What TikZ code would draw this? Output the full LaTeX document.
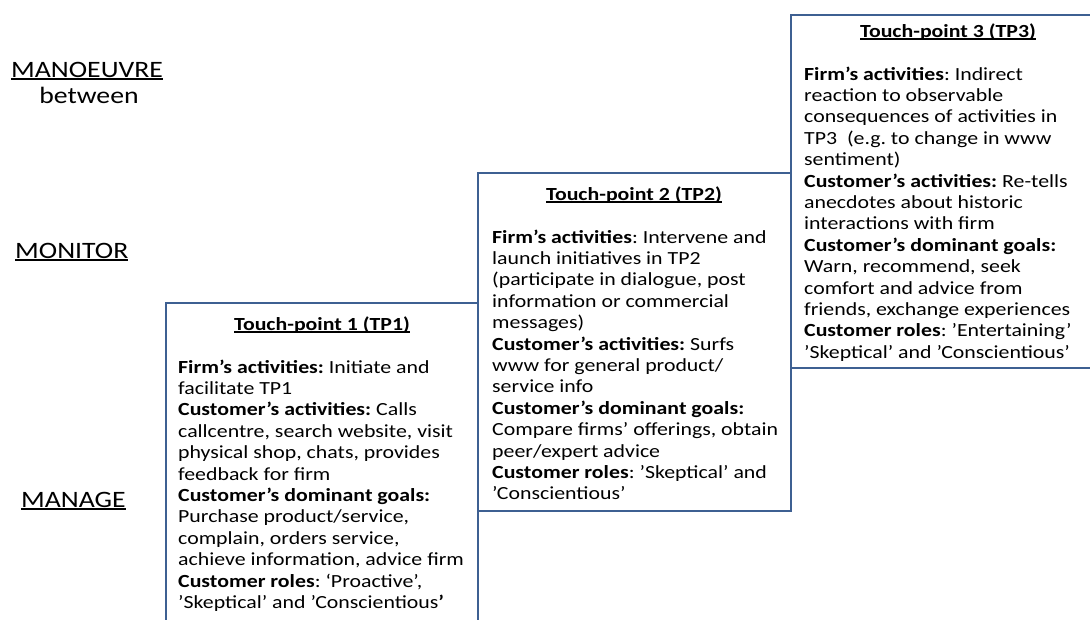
\documentclass[tikz,border=0pt]{standalone}
\usepackage{fontspec}
\setmainfont{Carlito}
\usepackage{graphicx}
\definecolor{boxline}{RGB}{62,96,146}
\newcommand{\hs}[1]{\scalebox{1.18}[1]{#1}}
\newcommand{\ulx}[1]{{\setbox0\hbox{#1}\rlap{\rule[-2.8pt]{\wd0}{1.4pt}}\box0}}
\newcommand{\bodyfont}{\fontsize{18.5}{21.4}\selectfont\frenchspacing}
\newcommand{\lblfont}{\fontsize{23.5}{26}\selectfont}
\newcommand{\bodytext}[1]{\hs{\parbox[t]{320pt}{\bodyfont\raggedright #1}}}
\begin{document}
\begin{tikzpicture}[x=1pt,y=-1pt,
  frame/.style={draw=boxline, line width=2.4pt},
  body/.style={anchor=base west, inner sep=0pt},
  ttl/.style={anchor=base, inner sep=0pt},
  lbl/.style={anchor=base west, inner sep=0pt}]
\useasboundingbox (0,0) rectangle (1090,619);
\clip (0,0) rectangle (1090,619);
\fill[white] (0,0) rectangle (1090,619);
% frames
\draw[frame] (166,303) rectangle (478,650);
\draw[frame] (478,173) rectangle (791,511);
\draw[frame] (791,15) rectangle (1120,368);
% left labels
\node[lbl] (man) at (11,77) {\hs{\lblfont\ulx{MANOEUVRE}}};
\node[anchor=base, inner sep=0pt] (btw) at (89,103) {\hs{\lblfont between}};
\node[lbl] (mon) at (15,258) {\hs{\lblfont\ulx{MONITOR}}};
\node[lbl] (mng) at (21,507) {\hs{\lblfont\ulx{MANAGE}}};
% titles
\node[ttl] (t1) at (322,330) {\hs{\bodyfont\bfseries\ulx{Touch-point 1 (TP1)}}};
\node[ttl] (t2) at (634,200) {\hs{\bodyfont\bfseries\ulx{Touch-point 2 (TP2)}}};
\node[ttl] (t3) at (948,37) {\hs{\bodyfont\bfseries\ulx{Touch-point 3 (TP3)}}};
% bodies
\node[body] (b1) at (178,373) {\bodytext{%
\textbf{Firm’s activities:} Initiate and\\
facilitate TP1\\
\textbf{Customer’s activities:} Calls\\
callcentre, search website, visit\\
physical shop, chats, provides\\
feedback for firm\\
\textbf{Customer’s dominant goals:}\\
Purchase product/service,\\
complain, orders service,\\
achieve information, advice firm\\
\textbf{Customer roles}: ‘Proactive’,\\
’Skeptical’ and ’Conscientious\textbf{’}}};
\node[body] (b2) at (492,243) {\bodytext{%
\textbf{Firm’s activities}: Intervene and\\
launch initiatives in TP2\\
(participate in dialogue, post\\
information or commercial\\
messages)\\
\textbf{Customer’s activities:} Surfs\\
www for general product/\\
service info\\
\textbf{Customer’s dominant goals:}\\
Compare firms’ offerings, obtain\\
peer/expert advice\\
\textbf{Customer roles}: ’Skeptical’ and\\
’Conscientious’}};
\node[body] (b3) at (804,80) {\bodytext{%
\textbf{Firm’s activities}: Indirect\\
reaction to observable\\
consequences of activities in\\
TP3\ \ (e.g. to change in www\\
sentiment)\\
\textbf{Customer’s activities:} Re-tells\\
anecdotes about historic\\
interactions with firm\\
\textbf{Customer’s dominant goals:}\\
Warn, recommend, seek\\
comfort and advice from\\
friends, exchange experiences\\
\textbf{Customer roles}: ’Entertaining’\\
’Skeptical’ and ’Conscientious’}};
\end{tikzpicture}
\end{document}
